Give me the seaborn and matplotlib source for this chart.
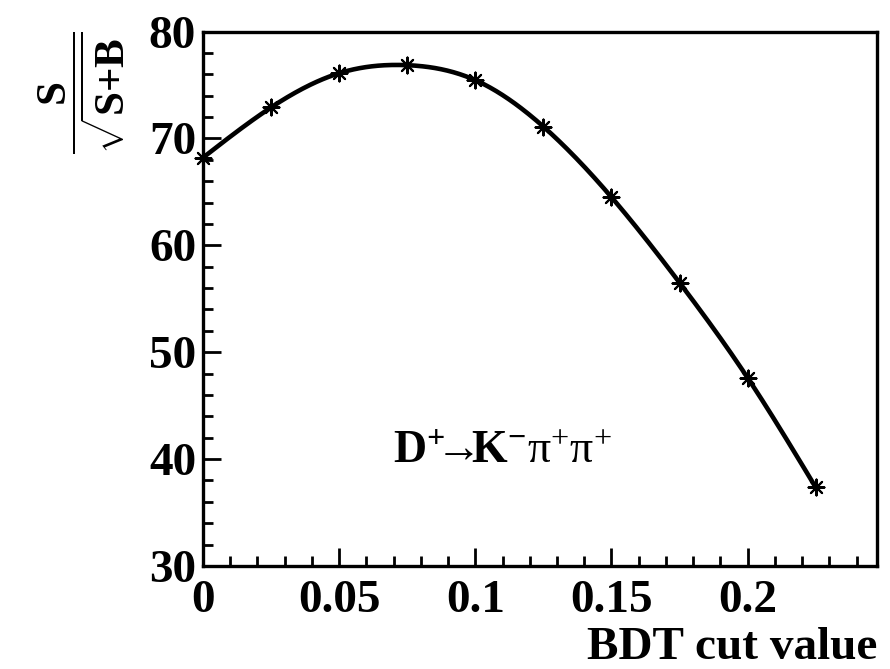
import numpy as np
import pandas as pd
import matplotlib
matplotlib.use("Agg")
import matplotlib.pyplot as plt
from matplotlib.ticker import FixedLocator, MultipleLocator, FixedFormatter
import seaborn as sns

# BDT cut scan for D+ -> K- pi+ pi+
bdt_cut = [0.0, 0.025, 0.05, 0.075, 0.1, 0.125, 0.15, 0.175, 0.2, 0.225]
significance = [68.2, 72.9, 76.1, 76.85, 75.45, 71.1, 64.5, 56.5, 47.6, 37.35]

x_ticks = [0.0, 0.05, 0.1, 0.15, 0.2]
x_tick_labels = ["0", "0.05", "0.1", "0.15", "0.2"]
y_ticks = [30, 40, 50, 60, 70, 80]
y_tick_labels = ["30", "40", "50", "60", "70", "80"]

x_title = "BDT cut value"
y_title = r"$\dfrac{\mathbf{S}}{\sqrt{\mathbf{S{+}B}}}$"
channel = r"$\mathbf{D^{+}\!\!\!\rightarrow\!\!\! K^{-}}\mathrm{\pi}^{+}\mathrm{\pi}^{+}$"

sns.set_theme(style="white")
plt.rcParams["font.family"] = ["Liberation Serif", "DejaVu Serif"]
plt.rcParams["mathtext.fontset"] = "custom"
plt.rcParams["mathtext.rm"] = "Liberation Serif"
plt.rcParams["mathtext.bf"] = "Liberation Serif:bold"
plt.rcParams["mathtext.it"] = "Liberation Serif:italic"


def natural_spline(x, y, n=400):
    """Smooth curve through the points (natural cubic spline)."""
    x = np.asarray(x, float)
    y = np.asarray(y, float)
    m = len(x)
    h = np.diff(x)
    A = np.zeros((m, m))
    r = np.zeros(m)
    A[0, 0] = A[-1, -1] = 1.0
    for i in range(1, m - 1):
        A[i, i - 1] = h[i - 1]
        A[i, i] = 2 * (h[i - 1] + h[i])
        A[i, i + 1] = h[i]
        r[i] = 6 * ((y[i + 1] - y[i]) / h[i] - (y[i] - y[i - 1]) / h[i - 1])
    M = np.linalg.solve(A, r)
    xs = np.linspace(x[0], x[-1], n)
    idx = np.clip(np.searchsorted(x, xs) - 1, 0, m - 2)
    x0, x1 = x[idx], x[idx + 1]
    hh = x1 - x0
    t0 = x1 - xs
    t1 = xs - x0
    ys = (M[idx] * t0 ** 3 / (6 * hh) + M[idx + 1] * t1 ** 3 / (6 * hh)
          + (y[idx] / hh - M[idx] * hh / 6) * t0
          + (y[idx + 1] / hh - M[idx + 1] * hh / 6) * t1)
    return xs, ys


df = pd.DataFrame({"cut": bdt_cut, "sig": significance})
xs, ys = natural_spline(bdt_cut, significance)
curve = pd.DataFrame({"cut": xs, "sig": ys})

fig = plt.figure(figsize=(8.9, 6.69), dpi=100)
ax = fig.add_axes([0.2281, 0.1540, 0.7573, 0.7989])

sns.lineplot(data=curve, x="cut", y="sig", ax=ax, color="black", linewidth=3.3,
             sort=False, estimator=None)
sns.scatterplot(data=df, x="cut", y="sig", ax=ax, color="black",
                marker=(8, 2, 0), s=130, linewidth=1.5, edgecolor="black",
                zorder=5, clip_on=False)

ax.set_xlim(0, 0.2475)
ax.set_ylim(30, 80)

ax.xaxis.set_major_locator(FixedLocator(x_ticks))
ax.xaxis.set_major_formatter(FixedFormatter(x_tick_labels))
ax.xaxis.set_minor_locator(MultipleLocator(0.01))
ax.yaxis.set_major_locator(FixedLocator(y_ticks))
ax.yaxis.set_major_formatter(FixedFormatter(y_tick_labels))
ax.yaxis.set_minor_locator(MultipleLocator(2))

ax.tick_params(which="both", direction="in", bottom=True, left=True,
               top=False, right=False, color="black", width=2.0,
               labelsize=34, labelcolor="black")
ax.tick_params(which="major", length=13)
ax.tick_params(which="minor", length=7)
ax.tick_params(axis="x", pad=10)
ax.tick_params(axis="y", pad=5)
for lab in ax.get_xticklabels() + ax.get_yticklabels():
    lab.set_fontweight("bold")

for side in ["left", "right", "top", "bottom"]:
    ax.spines[side].set_visible(True)
    ax.spines[side].set_color("black")
    ax.spines[side].set_linewidth(2.4)

ax.set_xlabel(x_title, fontsize=34, fontweight="bold", loc="right", color="black")
ax.xaxis.set_label_coords(1.0, -0.115)
ax.set_ylabel(y_title, fontsize=31, loc="top", color="black")
ax.yaxis.set_label_coords(-0.113, 1.0)

ax.text(0.445, 0.214, channel, transform=ax.transAxes, fontsize=33,
        ha="center", va="center", color="black")

fig.savefig("out.png", dpi=100)
